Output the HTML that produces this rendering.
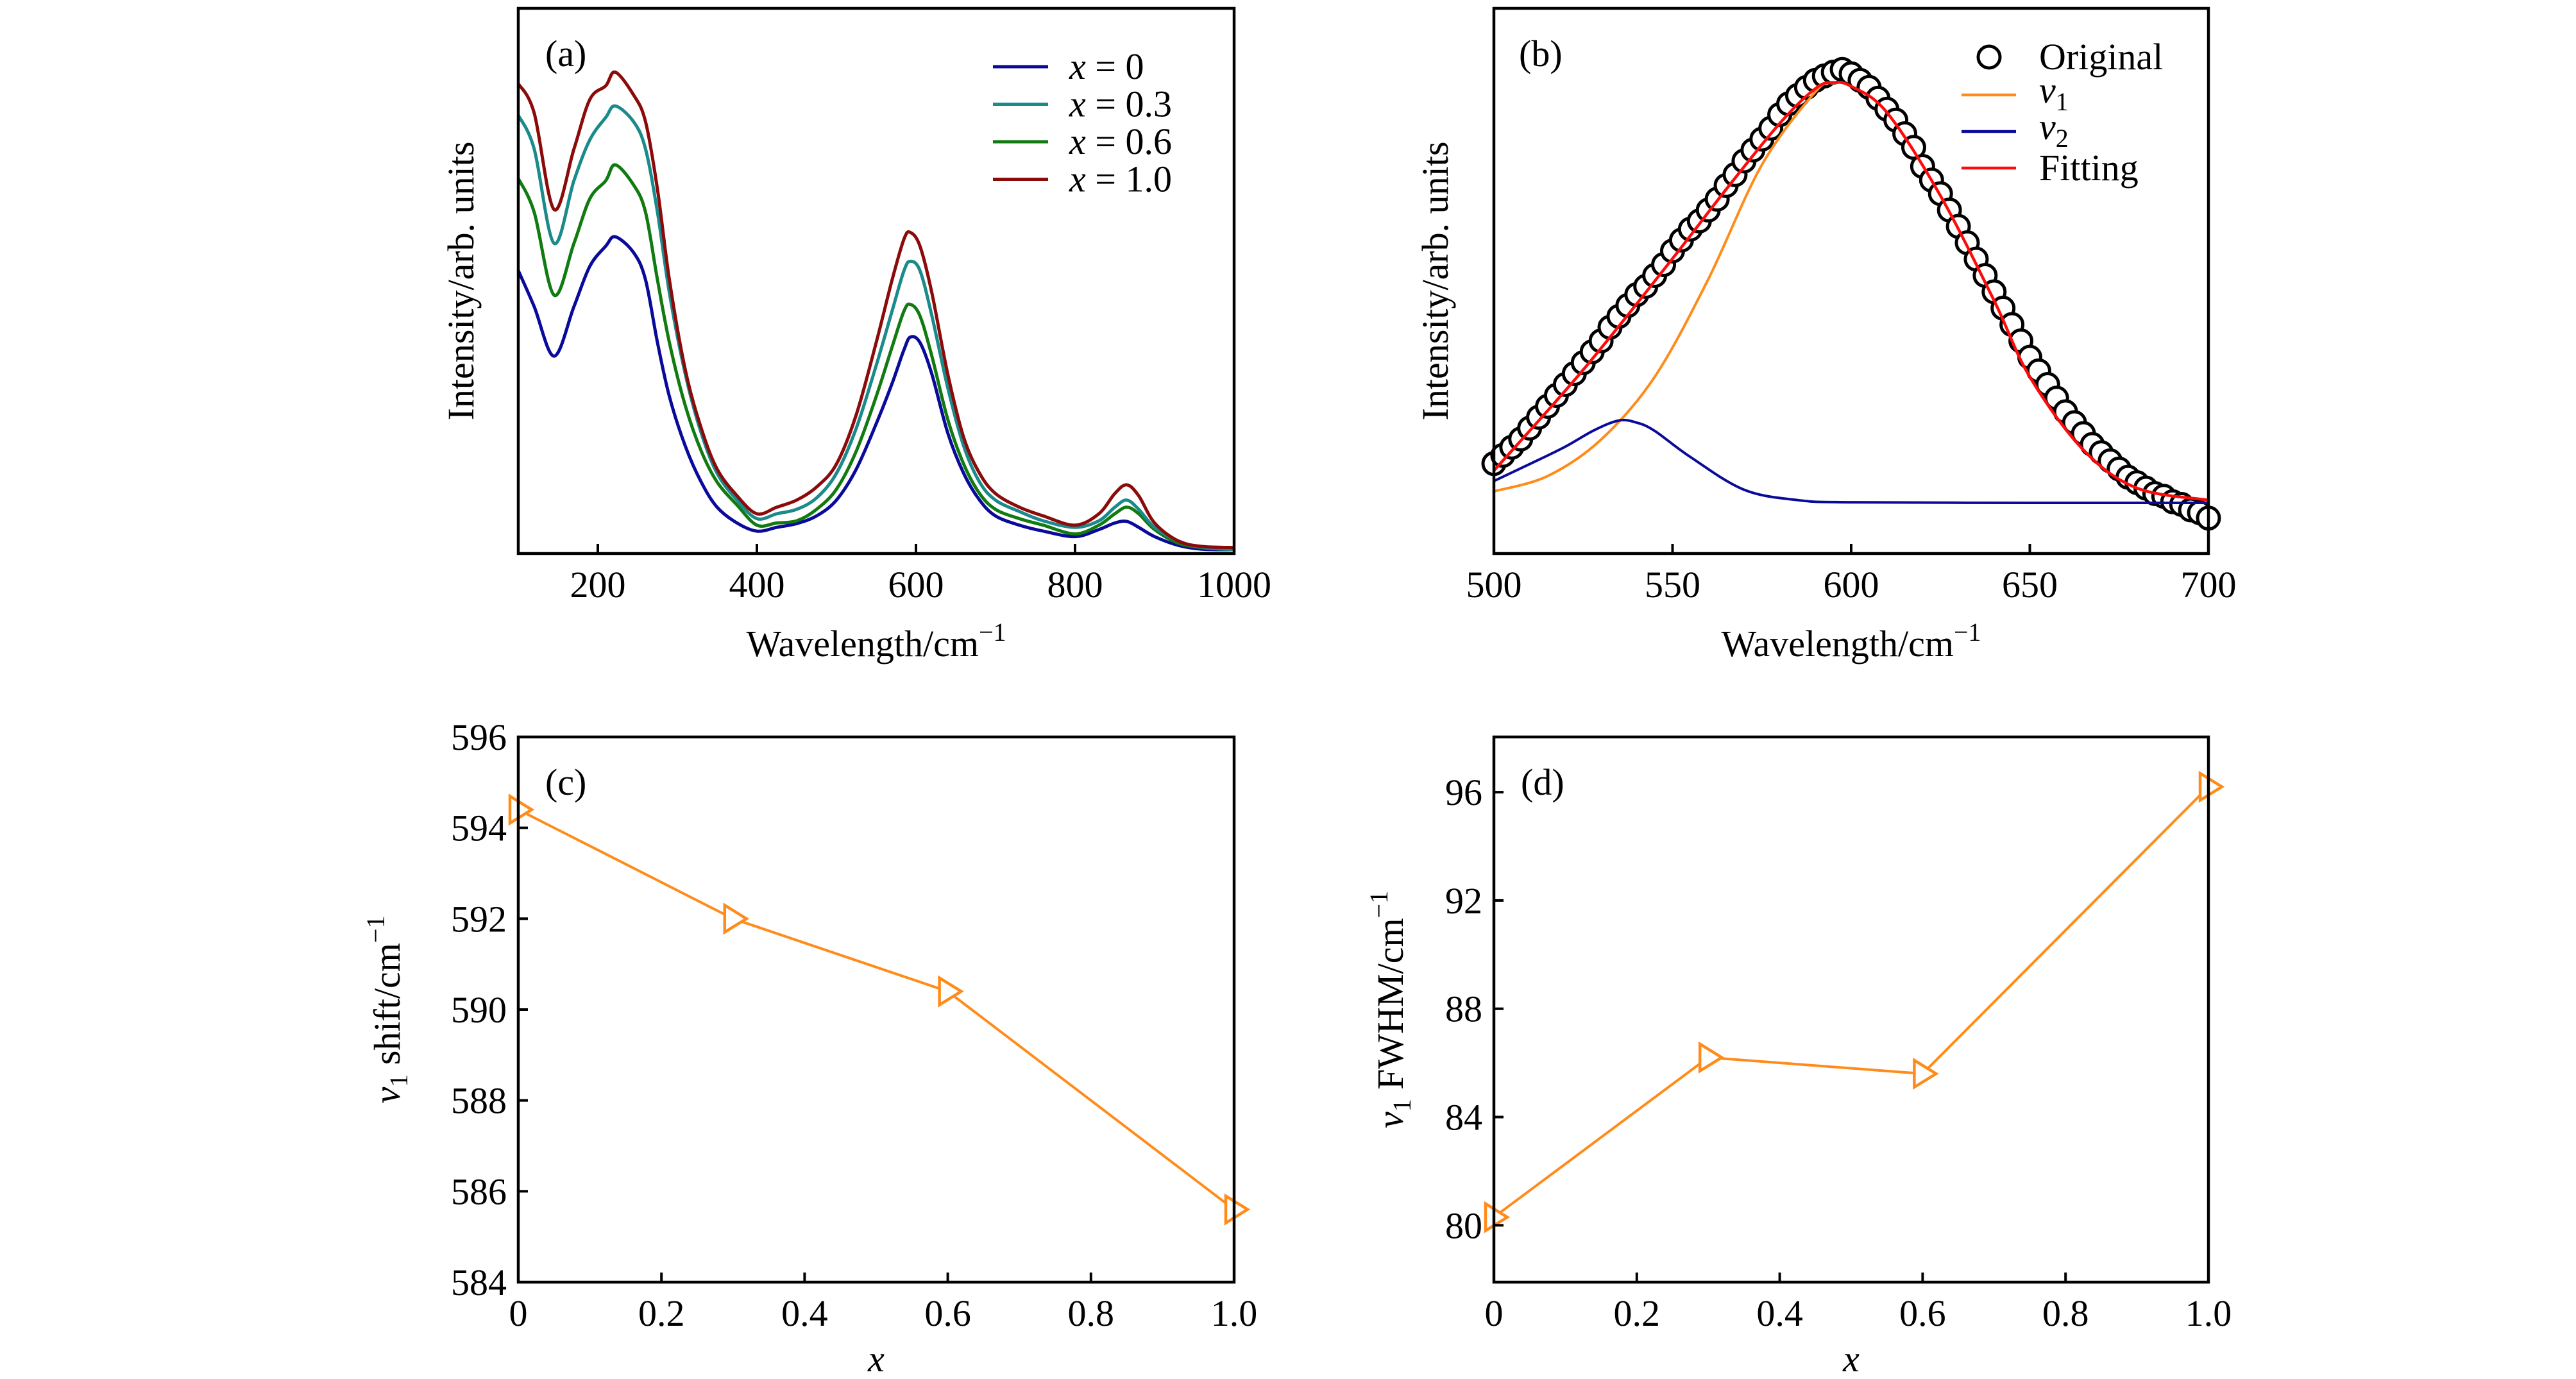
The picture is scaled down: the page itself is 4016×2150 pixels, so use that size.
<!DOCTYPE html>
<html><head><meta charset="utf-8">
<style>
html,body{margin:0;padding:0;background:#fff;}
svg{display:block;}
text{font-family:"Liberation Serif","DejaVu Serif",serif;fill:#000;}
</style></head>
<body>
<svg id="fig" width="4016" height="2150" viewBox="0 0 4016 2150" xmlns="http://www.w3.org/2000/svg"></svg>
<script>
// ---------- Panel (a) data ----------
const aWave = [100,120,145,170,190,210,222,245,260,275,290,310,330,350,375,400,425,450,475,500,525,550,570,585,593,605,620,640,660,680,700,730,760,800,830,850,865,880,900,930,960,1000];
const aX0  = [51.9,45.3,36.2,45.3,52.7,56.4,58.1,55.2,50.2,38.7,28.8,19.7,13.1,8.5,5.6,4.1,4.8,5.5,6.9,9.8,15.5,23.8,31.2,37.4,39.7,38.7,32.9,22.1,14.7,9.8,6.9,5.2,4.1,3.1,4.4,5.6,5.9,4.8,3.1,1.5,0.8,0.7];
const aX03 = [80.4,74.2,56.9,68.4,75.9,80.0,82.1,79.2,74.2,62.6,47.8,32.9,22.1,14.7,9.8,6.4,7.3,8.1,10.2,14.7,23.0,34.5,44.5,51.9,53.6,51.9,43.6,30.4,19.7,13.1,9.8,7.7,6.0,4.8,6.0,8.5,9.8,8.1,4.8,2.3,1.1,0.7];
const aX06 = [68.8,62.6,47.4,56.9,65.1,68.4,71.3,67.6,62.6,50.2,38.7,27.1,18.8,13.1,8.9,5.2,5.6,6.0,8.1,11.8,18.8,28.8,37.9,44.5,45.7,43.6,36.2,24.6,16.4,11.0,8.1,6.4,5.2,3.6,5.2,7.3,8.5,7.3,4.4,1.9,1.1,0.7];
const aX10 = [86.2,80.8,63.1,74.2,83.3,85.8,88.3,84.1,79.2,66.8,50.2,33.7,23.0,15.5,10.6,7.3,8.5,9.8,12.2,16.4,25.5,38.7,50.2,57.7,58.9,56.4,47.8,32.9,21.3,14.7,11.0,8.5,6.9,5.2,7.3,11.0,12.6,10.6,5.6,2.3,1.3,1.1];
const aTicks = [200,400,600,800,1000];
const aLegend = ["x = 0","x = 0.3","x = 0.6","x = 1.0"];

// ---------- Panel (b) data ----------
const bWave = [500,502.5,505,507.5,510,512.5,515,517.5,520,522.5,525,527.5,530,532.5,535,537.5,540,542.5,545,547.5,550,552.5,555,557.5,560,562.5,565,567.5,570,572.5,575,577.5,580,582.5,585,587.5,590,592.5,595,597.5,600,602.5,605,607.5,610,612.5,615,617.5,620,622.5,625,627.5,630,632.5,635,637.5,640,642.5,645,647.5,650,652.5,655,657.5,660,662.5,665,667.5,670,672.5,675,677.5,680,682.5,685,687.5,690,692.5,695,697.5,700];
const bOriginal = [16.5,18,19.5,21,23,25,27,29,31,33,35,37,39,41.5,43.5,45.5,47.5,49,51,53,55.5,57.5,59.5,61,63,65,67.5,69.5,72,74,76,78,80.5,82.5,84,85.5,86.8,87.6,88.3,88.8,88,86.8,85.5,83.5,81.5,79.5,77,74.5,71,68.5,66,63,60,57,54,51,48,45,42,39,36,33.5,31,28.5,26,24,22,20,18.5,17,15.5,14,13,12,11,10.5,9.5,9,8,7.5,6.5];
const bFitWave = [500,525,550,565,580,590,595,600,610,625,640,650,665,680,700];
const bFit = [15.2,33.7,54.1,66.8,78.9,85.3,86.4,85.7,80.9,65.6,46.4,32.4,19.0,12.0,9.8];
const bV1Wave = [500,515,530,545,560,575,590,595,600,610,625,640,650,665,680,700];
const bV1 = [11.4,14.2,20.9,32.4,50.3,71.3,84.7,86.3,85.7,80.9,65.6,46.4,32.4,19.0,12.0,9.8];
const bV2Wave = [500,510,520,528,535,540,545,555,570,585,600,650,700];
const bV2 = [13.3,16.4,19.6,22.6,24.4,24.0,22.5,17.7,11.7,9.8,9.4,9.3,9.3];
const bTicks = [500,550,600,650,700];

// ---------- Panels (c),(d) data ----------
const cdX = [0,0.3,0.6,1.0];
const cShift = [594.4,592.0,590.4,585.6];
const dFWHM = [80.3,86.2,85.6,96.2];
const xTicks = [0,0.2,0.4,0.6,0.8,1.0];
const xTickLabels = ["0","0.2","0.4","0.6","0.8","1.0"];
const cTicks = [584,586,588,590,592,594,596];
const dTicks = [80,84,88,92,96];

const NS="http://www.w3.org/2000/svg";
const svg=document.getElementById('fig');
function mk(tag,attrs,parent){const e=document.createElementNS(NS,tag);for(const k in attrs)e.setAttribute(k,attrs[k]);(parent||svg).appendChild(e);return e;}
function txt(str,x,y,size,anchor,parent,extra){const t=mk('text',Object.assign({x:x,y:y,'font-size':size,'text-anchor':anchor||'middle'},extra||{}),parent);t.textContent=str;return t;}
function scale(d0,d1,p0,p1){return v=>p0+(v-d0)/(d1-d0)*(p1-p0);}
function path(xs,ys,sx,sy){return xs.map((v,i)=>(i?'L':'M')+sx(v).toFixed(1)+','+sy(ys[i]).toFixed(1)).join(' ');}
function smooth(xs,ys,sx,sy){
  const P=xs.map((v,i)=>[sx(v),sy(ys[i])]);let d='M'+P[0][0].toFixed(1)+','+P[0][1].toFixed(1);
  for(let i=0;i<P.length-1;i++){const p0=P[i-1]||P[i],p1=P[i],p2=P[i+1],p3=P[i+2]||P[i+1];
    const c1=[p1[0]+(p2[0]-p0[0])/6,p1[1]+(p2[1]-p0[1])/6],c2=[p2[0]-(p3[0]-p1[0])/6,p2[1]-(p3[1]-p1[1])/6];
    d+=' C'+c1.map(n=>n.toFixed(1)).join(',')+' '+c2.map(n=>n.toFixed(1)).join(',')+' '+p2[0].toFixed(1)+','+p2[1].toFixed(1);}
  return d;}
const FS=58;

function frame(g,L,T,R,B){
  const r=mk('rect',{x:L,y:T,width:R-L,height:B-T,fill:'none',stroke:'#000','stroke-width':4.5},g);
  
  
}
function xTicksDraw(g,ticks,labels,sx,B,name){
  const tg=mk('g',{},g);
  
  
  ticks.forEach((t,i)=>{mk('line',{x1:sx(t),x2:sx(t),y1:B,y2:B-15,stroke:'#000','stroke-width':4},tg);
    const lb=txt(labels[i],sx(t),B+68,FS,'middle',tg);
    
    });
}
function yTicksDraw(g,ticks,sy,L,name){
  const tg=mk('g',{},g);
  
  
  ticks.forEach(t=>{mk('line',{x1:L,x2:L+15,y1:sy(t),y2:sy(t),stroke:'#000','stroke-width':4},tg);
    const lb=txt(String(t),L-18,sy(t)+20,FS,'end',tg);
    
    });
}
function yTitle(g,parts,x,y,name){
  const t=mk('text',{x:0,y:0,'font-size':FS,'text-anchor':'middle',transform:`translate(${x},${y}) rotate(-90)`},g);
  
  
  parts.forEach(p=>{const s=mk('tspan',p.a||{},t);s.textContent=p.t;});
  return t;
}

// ===== Panel (a) =====
(function(){
  const L=808,T=13,R=1924,B=863;
  const g=mk('g',{});
  
  
  const sx=scale(100,1000,L,R), sy=scale(0,100,B,T);
  const series=[[aX0,'#0a0a9a','series-x-0'],[aX06,'#117a11','series-x-0-6'],[aX03,'#1a8a8a','series-x-0-3'],[aX10,'#8b0a0a','series-x-1-0']];
  series.forEach(s=>{const p=mk('path',{d:smooth(aWave,s[0],sx,sy),fill:'none',stroke:s[1],'stroke-width':5,'stroke-linejoin':'round'},g);
    
    });
  frame(g,L,T,R,B);
  xTicksDraw(g,aTicks,aTicks.map(String),sx,B,'x-axis-ticks-a');
  const pl=txt('(a)',850,103,FS,'start',g);
  
  
  const cols=['#0a0a9a','#1a8a8a','#117a11','#8b0a0a'];
  const lg=mk('g',{},g);
  
  
  aLegend.forEach((l,i)=>{const y=104+i*58.5;
    mk('line',{x1:1548,x2:1634,y1:y,y2:y,stroke:cols[i],'stroke-width':5},lg);
    const parts=l.split(' = ');
    const t=mk('text',{x:1667,y:y+19,'font-size':FS},lg);
    
    
    const a=mk('tspan',{'font-style':'italic'},t);a.textContent=parts[0];
    const b=mk('tspan',{},t);b.textContent=' = '+parts[1];});
  const xl=txt('',1366,1023,FS,'middle',g);
  
  
  xl.innerHTML='Wavelength/cm<tspan dy="-24" font-size="40">−1</tspan>';
  yTitle(g,[{t:'Intensity/arb. units'}],738,438,'y-axis-title-a');
})();

// ===== Panel (b) =====
(function(){
  const L=2329,T=13,R=3443,B=863;
  const g=mk('g',{});
  
  
  const sx=scale(500,700,L,R), sy=scale(0,100,B,T);
  const og=mk('g',{},g);
  
  
  bWave.forEach((w,i)=>{const c=mk('circle',{cx:sx(w),cy:sy(bOriginal[i]),r:17,fill:'#fff',stroke:'#000','stroke-width':5},og);
    
    });
  const v1=mk('path',{d:smooth(bV1Wave,bV1,sx,sy),fill:'none',stroke:'#ff8c1a','stroke-width':4},g);
  
  
  const v2=mk('path',{d:smooth(bV2Wave,bV2,sx,sy),fill:'none',stroke:'#0a0a9a','stroke-width':4},g);
  
  
  const ft=mk('path',{d:smooth(bFitWave,bFit,sx,sy),fill:'none',stroke:'#ff0a0a','stroke-width':4.5},g);
  
  
  frame(g,L,T,R,B);
  xTicksDraw(g,bTicks,bTicks.map(String),sx,B,'x-axis-ticks-b');
  const pl=txt('(b)',2368,103,FS,'start',g);
  
  
  const lg=mk('g',{},g);
  
  
  mk('circle',{cx:3101,cy:89,r:17,fill:'#fff',stroke:'#000','stroke-width':5},lg);
  let t=txt('Original',3179,108,FS,'start',lg);
  
  
  mk('line',{x1:3058,x2:3143,y1:148,y2:148,stroke:'#ff8c1a','stroke-width':4.5},lg);
  t=txt('',3179,160,FS,'start',lg);
  
  
  t.innerHTML='<tspan font-style="italic">v</tspan><tspan dy="12" font-size="40">1</tspan>';
  mk('line',{x1:3058,x2:3143,y1:205,y2:205,stroke:'#0a0a9a','stroke-width':4.5},lg);
  t=txt('',3179,217,FS,'start',lg);
  
  
  t.innerHTML='<tspan font-style="italic">v</tspan><tspan dy="12" font-size="40">2</tspan>';
  mk('line',{x1:3058,x2:3143,y1:262,y2:262,stroke:'#ff0a0a','stroke-width':4.5},lg);
  t=txt('Fitting',3179,281,FS,'start',lg);
  
  
  const xl=txt('',2886,1023,FS,'middle',g);
  
  
  xl.innerHTML='Wavelength/cm<tspan dy="-24" font-size="40">−1</tspan>';
  yTitle(g,[{t:'Intensity/arb. units'}],2257,438,'y-axis-title-b');
})();

// ===== Panels (c),(d) =====
function markerPanel(name,L,R,vals,ymin,ymax,ticks,label,ytitleParts,ytx){
  const T=1149,B=1999;
  const g=mk('g',{});
  
  
  const sx=scale(0,1,L,R), sy=scale(ymin,ymax,B,T);
  const ln=mk('path',{d:path(cdX,vals,sx,sy),fill:'none',stroke:'#ff8c1a','stroke-width':4},g);
  
  
  cdX.forEach((x,i)=>{const cx=sx(x),cy=sy(vals[i]);
    const m=mk('polygon',{points:`${cx-13},${cy-21} ${cx+21},${cy} ${cx-13},${cy+21}`,fill:'#fff',stroke:'#ff8c1a','stroke-width':4.5},g);
    
    });
  frame(g,L,T,R,B);
  xTicksDraw(g,xTicks,xTickLabels,sx,B,'x-axis-ticks');
  yTicksDraw(g,ticks,sy,L,'y-axis-ticks');
  const pl=txt(label,L+42,T+90,FS,'start',g);
  
  
  const xl=txt('x',(L+R)/2,2138,FS,'middle',g,{'font-style':'italic'});
  
  
  yTitle(g,ytitleParts,ytx,1574,'y-axis-title');
}
const yPartsC=[{t:'v',a:{'font-style':'italic'}},{t:'1',a:{dy:12,'font-size':40}},{t:' shift/cm',a:{dy:-12}},{t:'−1',a:{dy:-24,'font-size':40}}];
const yPartsD=[{t:'v',a:{'font-style':'italic'}},{t:'1',a:{dy:12,'font-size':40}},{t:' FWHM/cm',a:{dy:-12}},{t:'−1',a:{dy:-24,'font-size':40}}];
markerPanel('panel-c',808,1924,cShift,584,596,cTicks,'(c)',yPartsC,623);
markerPanel('panel-d',2329,3443,dFWHM,77.9,98.04,dTicks,'(d)',yPartsD,2187);
</script>
</body></html>
